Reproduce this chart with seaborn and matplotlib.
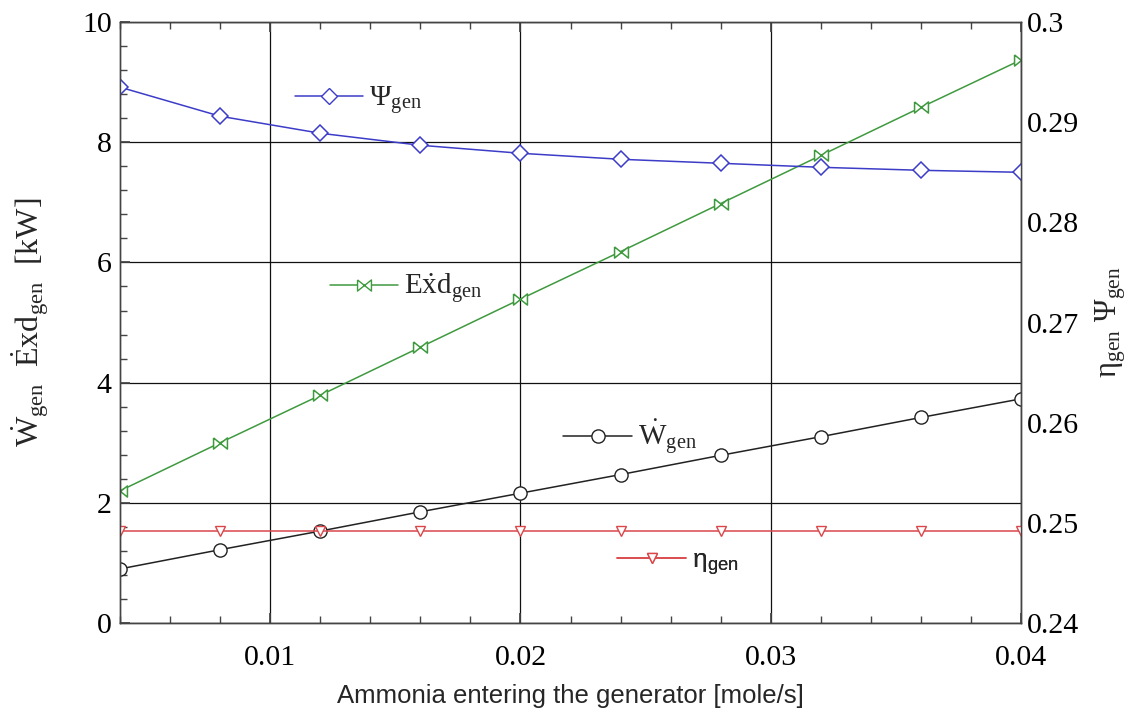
import numpy as np
import pandas as pd
import matplotlib
matplotlib.use('Agg')
import matplotlib.pyplot as plt
import seaborn as sns
from matplotlib.ticker import MultipleLocator, FuncFormatter
from matplotlib.lines import Line2D

# ---- data ----
x_flow = [0.004, 0.008, 0.012, 0.016, 0.020, 0.024, 0.028, 0.032, 0.036, 0.040]
psi_gen = [0.2935, 0.2906, 0.2889, 0.2877, 0.2869, 0.2863, 0.2859, 0.2855, 0.2852, 0.2850]
exd_gen = [2.20, 3.00, 3.79, 4.59, 5.39, 6.18, 6.98, 7.78, 8.58, 9.37]
w_gen = [0.90, 1.22, 1.53, 1.85, 2.16, 2.47, 2.79, 3.10, 3.42, 3.73]
eta_gen = [0.2492, 0.2492, 0.2492, 0.2492, 0.2492, 0.2492, 0.2492, 0.2492, 0.2492, 0.2492]

x_ticks = [0.01, 0.02, 0.03, 0.04]
left_ticks = [0, 2, 4, 6, 8, 10]
right_ticks = [0.24, 0.25, 0.26, 0.27, 0.28, 0.29, 0.30]

df = pd.DataFrame({'x': x_flow, 'psi': psi_gen, 'exd': exd_gen, 'w': w_gen, 'eta': eta_gen})

sns.set_theme(style='ticks')
plt.rcParams['font.family'] = ['Liberation Serif', 'DejaVu Serif']
plt.rcParams['mathtext.fontset'] = 'stix'

c_blue = '#3c3cc8'
c_green = '#3f9a3f'
c_black = '#222222'
c_red = '#d9474a'
bowtie = [(-1, 0.8), (-1, -0.8), (1, 0.8), (1, -0.8), (-1, 0.8)]

fig = plt.figure(figsize=(11.41, 7.12), dpi=100)
ax = fig.add_axes([0.1052, 0.125, 0.7896, 0.844])
ax2 = ax.twinx()

sns.lineplot(data=df, x='x', y='exd', ax=ax, color=c_green, lw=1.1, marker=bowtie,
             markersize=10, markerfacecolor='white', markeredgecolor=c_green, markeredgewidth=1.1)
sns.lineplot(data=df, x='x', y='w', ax=ax, color=c_black, lw=1.1, marker='o',
             markersize=9.5, markerfacecolor='white', markeredgecolor=c_black, markeredgewidth=1.0)
sns.lineplot(data=df, x='x', y='psi', ax=ax2, color=c_blue, lw=1.1, marker='D',
             markersize=8, markerfacecolor='white', markeredgecolor=c_blue, markeredgewidth=1.1)
sns.lineplot(data=df, x='x', y='eta', ax=ax2, color=c_red, lw=1.1, marker='v',
             markersize=7, markerfacecolor='white', markeredgecolor=c_red, markeredgewidth=1.0)

for a in (ax, ax2):
    for ln in a.get_lines():
        ln.set_clip_path(a.patch)

ax.set_xlim(0.004, 0.04)
ax.set_ylim(0, 10)
ax2.set_ylim(0.24, 0.30)

ax.set_xticks(x_ticks)
ax.set_xticklabels([f'{v:g}' for v in x_ticks])
ax.xaxis.set_minor_locator(MultipleLocator(0.002))
ax.set_yticks(left_ticks)
ax.yaxis.set_minor_locator(MultipleLocator(0.4))
ax2.set_yticks(right_ticks)
ax2.yaxis.set_major_formatter(FuncFormatter(lambda v, p: f'{v:g}'))

ax.grid(True, which='major', color='#111111', lw=0.9)
ax.set_axisbelow(True)

for a in (ax, ax2):
    for s in a.spines.values():
        s.set_color('#444444')
        s.set_linewidth(1.0)
ax.tick_params(axis='both', which='both', direction='in', colors='#444444', labelcolor='black',
               labelsize=21.5, top=True)
ax.tick_params(which='major', length=7)
ax.tick_params(which='minor', length=5)
ax2.tick_params(axis='y', which='both', direction='in', length=0, labelcolor='black',
                labelsize=21.5, pad=4)
ax.tick_params(axis='x', pad=16)
ax.tick_params(axis='y', pad=6)

ax.set_xlabel('Ammonia entering the generator [mole/s]', family=['Liberation Sans'],
              fontsize=18.5, labelpad=9)
ax.set_ylabel(r'$\dot{\mathregular{W}}_{\mathregular{gen}}$  $\dot{\mathregular{E}}\mathregular{xd}_{\mathregular{gen}}$  [kW]',
              fontsize=23, labelpad=22)
ax2.set_ylabel(r'η$_{\mathregular{gen}}$ Ψ$_{\mathregular{gen}}$', fontsize=22, rotation=90, labelpad=11)

def inline_legend(a, color, marker, ms, label, anchor, family=None):
    h = Line2D([], [], color=color, lw=1.1, marker=marker, markersize=ms,
               markerfacecolor='white', markeredgecolor=color)
    leg = a.legend(handles=[h], labels=[label], loc='center left', bbox_to_anchor=anchor,
                   frameon=False, fontsize=21, handlelength=2.35, handletextpad=0.2,
                   borderpad=0, borderaxespad=0)
    if family:
        for t in leg.get_texts():
            t.set_family(family)
            t.set_fontsize(19)
    a.add_artist(leg)

inline_legend(ax2, c_blue, 'D', 8, r'Ψ$_{\mathregular{gen}}$', (0.194, 0.869))
inline_legend(ax2, c_green, bowtie, 10, r'$\mathregular{E\dot{x}d}_{\mathregular{gen}}$', (0.233, 0.556))
inline_legend(ax2, c_black, 'o', 9.5, r'$\dot{\mathregular{W}}_{\mathregular{gen}}$', (0.492, 0.309))
inline_legend(ax2, c_red, 'v', 7, r'η$_{\mathregular{gen}}$', (0.552, 0.100), family=['Liberation Sans'])

fig.savefig('out.png', dpi=100)
